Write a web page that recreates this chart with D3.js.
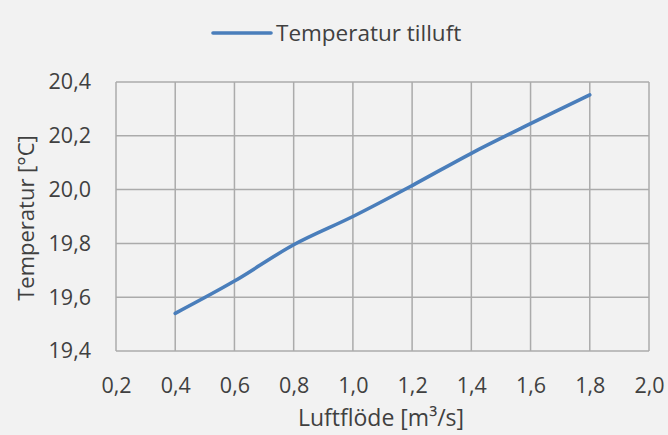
<!DOCTYPE html>
<html><head><meta charset="utf-8">
<script src="https://cdn.jsdelivr.net/npm/d3@7"></script>
<style>
html,body{margin:0;padding:0;background:#f2f2f2;}
svg{display:block;}
text{font-family:"Open Sans",sans-serif;fill:#404040;}
</style></head>
<body>
<svg id="c" width="668" height="435"></svg>
<script>
const flow = [0.4, 0.6, 0.8, 1.0, 1.2, 1.4, 1.6, 1.8];
const temp = [19.54, 19.66, 19.795, 19.90, 20.015, 20.135, 20.245, 20.352];
const xTicks = [0.2, 0.4, 0.6, 0.8, 1.0, 1.2, 1.4, 1.6, 1.8, 2.0];
const yTicks = [19.4, 19.6, 19.8, 20.0, 20.2, 20.4];
const seriesName = "Temperatur tilluft";
const xTitle = "Luftflöde [m³/s]";
const yTitle = "Temperatur [°C]";

const svg = d3.select("#c");
svg.append("rect").attr("width",668).attr("height",435).attr("fill","#f2f2f2");
const L=116, R=649, T=82, B=351;
const x = d3.scaleLinear().domain([0.2,2.0]).range([L,R]);
const y = d3.scaleLinear().domain([19.4,20.4]).range([B,T]);
const fmt = d => d3.format(".1f")(d).replace(".", ",");
const grid = "#ababab";

svg.append("g").selectAll("line").data(xTicks).join("line")
  .attr("x1",d=>x(d)).attr("x2",d=>x(d)).attr("y1",T).attr("y2",B)
  .attr("stroke",grid).attr("stroke-width",1.5);
svg.append("g").selectAll("line").data(yTicks).join("line")
  .attr("x1",L).attr("x2",R).attr("y1",d=>y(d)).attr("y2",d=>y(d))
  .attr("stroke",grid).attr("stroke-width",1.5);

const xa = svg.append("g").attr("transform",`translate(0,${B})`)
  .call(d3.axisBottom(x).tickValues(xTicks).tickFormat(fmt).tickSize(0).tickPadding(27));
xa.select(".domain").remove();
xa.selectAll("text").attr("font-size",21.5).attr("font-family","Open Sans").attr("fill","#404040");
const ya = svg.append("g").attr("transform",`translate(${L},0)`)
  .call(d3.axisLeft(y).tickValues(yTicks).tickFormat(fmt).tickSize(0).tickPadding(25));
ya.select(".domain").remove();
ya.selectAll("text").attr("font-size",21.5).attr("font-family","Open Sans").attr("fill","#404040");

const line = d3.line().x((d,i)=>x(flow[i])).y(d=>y(d)).curve(d3.curveCatmullRom.alpha(0.5));
svg.append("path").datum(temp).attr("d",line).attr("fill","none")
  .attr("stroke","#4a7ebb").attr("stroke-width",3.6).attr("stroke-linecap","round");

svg.append("text").attr("x",381).attr("y",426).attr("text-anchor","middle")
  .attr("font-size",23).text(xTitle);
svg.append("text").attr("transform","translate(34,218) rotate(-90)").attr("text-anchor","middle")
  .attr("font-size",22).text(yTitle);

svg.append("line").attr("x1",213).attr("x2",271).attr("y1",33).attr("y2",33)
  .attr("stroke","#4a7ebb").attr("stroke-width",3.6).attr("stroke-linecap","round");
svg.append("text").attr("x",276).attr("y",41).attr("font-size",22.5).text(seriesName);
</script>
</body></html>
